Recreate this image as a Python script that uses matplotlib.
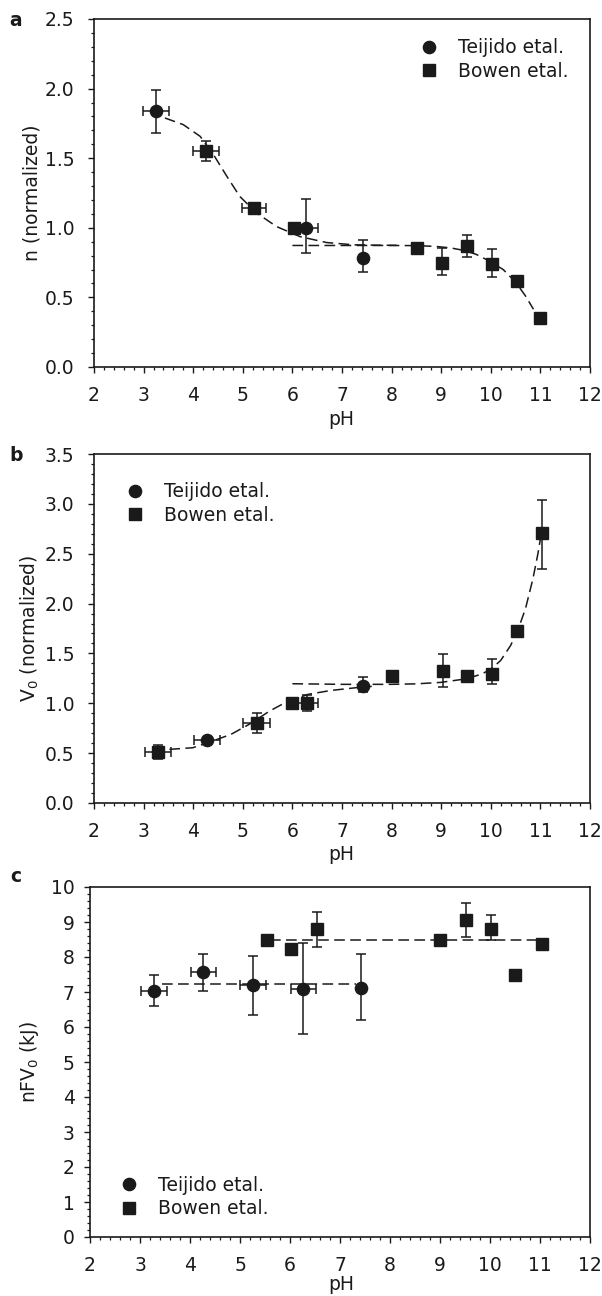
import numpy as np
import matplotlib
matplotlib.use("Agg")
import matplotlib.pyplot as plt
from matplotlib.ticker import MultipleLocator, FormatStrFormatter
from matplotlib.lines import Line2D

plt.rcParams['font.family'] = ['DejaVu Sans']
plt.rcParams['mathtext.default'] = 'regular'

INK = '#1a1a1a'
NAN = np.nan

# ---------------- Panel a : n (normalized) ----------------
a_tei_x = [3.25, 6.27, 7.42]
a_tei_y = [1.838, 0.995, 0.786]
a_tei_xerr = [0.26, 0.25, NAN]
a_tei_ylo = [1.683, 0.817, 0.679]
a_tei_yhi = [1.993, 1.207, 0.912]

a_bow_x = [4.26, 5.22, 6.04, 8.52, 9.02, 9.52, 10.03, 10.52, 11.0]
a_bow_y = [1.552, 1.142, 0.995, 0.857, 0.750, 0.869, 0.743, 0.615, 0.355]
a_bow_xerr = [0.27, 0.24, NAN, NAN, NAN, NAN, NAN, NAN, NAN]
a_bow_ylo = [1.483, NAN, NAN, NAN, 0.660, 0.790, 0.643, NAN, NAN]
a_bow_yhi = [1.620, NAN, NAN, NAN, 0.857, 0.948, 0.850, NAN, NAN]

a_fit1_x = [3.43, 3.80, 4.14, 4.41, 4.68, 4.94, 5.28, 5.68, 6.15, 6.69, 7.23, 7.70, 8.10]
a_fit1_y = [1.789, 1.741, 1.657, 1.525, 1.369, 1.225, 1.106, 1.009, 0.937, 0.894, 0.878, 0.875, 0.874]
a_fit2_x = [6.00, 7.00, 8.00, 8.50, 8.90, 9.20, 9.45, 9.70, 9.95, 10.25, 10.50, 10.70, 10.86]
a_fit2_y = [0.873, 0.873, 0.873, 0.872, 0.866, 0.855, 0.838, 0.810, 0.765, 0.700, 0.610, 0.510, 0.415]

# ---------------- Panel b : V0 (normalized) ----------------
b_tei_x = [4.28, 7.43]
b_tei_y = [0.631, 1.172]
b_tei_xerr = [0.27, NAN]
b_tei_ylo = [NAN, 1.112]
b_tei_yhi = [NAN, 1.263]

b_bow_x = [3.29, 5.28, 6.00, 6.29, 8.01, 9.04, 9.52, 10.03, 10.53, 11.03]
b_bow_y = [0.511, 0.798, 1.002, 1.002, 1.273, 1.323, 1.273, 1.296, 1.723, 2.709]
b_bow_xerr = [0.27, 0.27, NAN, 0.23, NAN, NAN, NAN, NAN, NAN, NAN]
b_bow_ylo = [0.440, 0.700, NAN, 0.920, NAN, 1.166, NAN, 1.190, NAN, 2.348]
b_bow_yhi = [0.580, 0.905, NAN, 1.080, NAN, 1.496, NAN, 1.440, NAN, 3.043]

b_fit1_x = [3.52, 3.99, 4.30, 4.76, 5.15, 5.54, 5.85, 6.31, 6.78, 7.39, 7.60]
b_fit1_y = [0.538, 0.554, 0.605, 0.688, 0.795, 0.922, 1.005, 1.089, 1.129, 1.162, 1.170]
b_fit2_x = [6.00, 7.00, 8.00, 8.50, 9.00, 9.50, 9.80, 10.00, 10.20, 10.40, 10.55, 10.70, 10.85, 10.95, 11.00]
b_fit2_y = [1.196, 1.190, 1.190, 1.195, 1.210, 1.245, 1.290, 1.340, 1.430, 1.580, 1.740, 1.950, 2.250, 2.500, 2.650]

# ---------------- Panel c : nFV0 (kJ) ----------------
c_tei_x = [3.28, 4.27, 5.26, 6.26, 7.41]
c_tei_y = [7.03, 7.56, 7.20, 7.10, 7.12]
c_tei_xerr = [0.26, 0.26, 0.27, 0.25, NAN]
c_tei_ylo = [6.60, 7.03, 6.33, 5.79, 6.19]
c_tei_yhi = [7.50, 8.08, 8.03, 8.41, 8.08]

c_bow_x = [5.53, 6.01, 6.53, 8.99, 9.53, 10.03, 10.50, 11.04]
c_bow_y = [8.50, 8.24, 8.79, 8.50, 9.05, 8.79, 7.50, 8.36]
c_bow_xerr = [NAN] * 8
c_bow_ylo = [NAN, NAN, 8.30, NAN, 8.57, 8.48, NAN, NAN]
c_bow_yhi = [NAN, NAN, 9.29, NAN, 9.54, 9.19, NAN, NAN]

c_fit1_x = [3.44, 7.31]
c_fit1_y = [7.22, 7.22]
c_fit2_x = [5.59, 10.96]
c_fit2_y = [8.50, 8.50]

xticks = [2, 3, 4, 5, 6, 7, 8, 9, 10, 11, 12]
labels_leg = ['Teijido etal.', 'Bowen etal.']

FS = 13.5
W, H = 602, 1296
fig = plt.figure(figsize=(W / 100, H / 100), dpi=100)


def px(x0, y_top, x1, y_bot):
    return [x0 / W, 1 - y_bot / H, (x1 - x0) / W, (y_bot - y_top) / H]


def errs(y, lo, hi):
    y = np.asarray(y, float)
    return np.vstack([y - np.asarray(lo, float), np.asarray(hi, float) - y])


def draw_series(ax, x, y, xerr, ylo, yhi, marker):
    ax.errorbar(x, y, yerr=errs(y, ylo, yhi), xerr=np.asarray(xerr, float),
                fmt='none', ecolor=INK, elinewidth=1.1, capsize=3.6,
                capthick=1.1, zorder=2)
    ax.plot(x, y, linestyle='none', marker=marker, ms=8.8, color=INK,
            mec=INK, zorder=3)


def style(ax, ylim, ymaj, ymin, yfmt, ypad):
    ax.set_xlim(2, 12)
    ax.set_ylim(*ylim)
    ax.set_xticks(xticks)
    ax.xaxis.set_minor_locator(MultipleLocator(0.2))
    ax.yaxis.set_major_locator(MultipleLocator(ymaj))
    ax.yaxis.set_minor_locator(MultipleLocator(ymin))
    ax.yaxis.set_major_formatter(FormatStrFormatter(yfmt))
    ax.tick_params(which='major', direction='out', length=4, width=1.0,
                   labelsize=FS, colors=INK, top=False, right=False)
    ax.tick_params(axis='x', which='major', pad=10)
    ax.tick_params(axis='y', which='major', pad=ypad)
    ax.tick_params(which='minor', direction='out', length=2, width=0.9,
                   colors=INK, top=False, right=False)
    for s in ax.spines.values():
        s.set_linewidth(1.2)
        s.set_color(INK)


def legend(ax, ax_px, ay_px):
    h = [Line2D([], [], ls='none', marker='o', ms=8.8, color=INK),
         Line2D([], [], ls='none', marker='s', ms=8.8, color=INK)]
    ax.legend(h, labels_leg, loc='center left',
              bbox_to_anchor=(ax_px / W, 1 - ay_px / H),
              bbox_transform=fig.transFigure, frameon=False,
              fontsize=FS, handlelength=1.0, handletextpad=1.05,
              borderpad=0, borderaxespad=0, labelspacing=0.25,
              labelcolor=INK)


def labels(ax, ylab, ylab_x, yc, xlab_top):
    ax.set_xlabel('pH', fontsize=FS, color=INK)
    ax.set_ylabel(ylab, fontsize=FS, color=INK)
    ax.xaxis.set_label_coords(341 / W, 1 - xlab_top / H, transform=fig.transFigure)
    ax.yaxis.set_label_coords(ylab_x / W, 1 - yc / H, transform=fig.transFigure)


dash = dict(color=INK, lw=1.1, ls=(0, (7, 3.5)), zorder=1.5)

# Panel a
axa = fig.add_axes(px(94, 19, 590, 367))
axa.plot(a_fit1_x, a_fit1_y, **dash)
axa.plot(a_fit2_x, a_fit2_y, **dash)
draw_series(axa, a_tei_x, a_tei_y, a_tei_xerr, a_tei_ylo, a_tei_yhi, 'o')
draw_series(axa, a_bow_x, a_bow_y, a_bow_xerr, a_bow_ylo, a_bow_yhi, 's')
style(axa, (0, 2.5), 0.5, 0.1, '%.1f', 10)
legend(axa, 420, 59.7)
labels(axa, 'n (normalized)', 41, 193, 410)
fig.text(16 / W, 1 - 20 / H, 'a', fontsize=FS, fontweight='bold',
         ha='center', va='center', color=INK)

# Panel b
axb = fig.add_axes(px(94, 454, 590, 803))
axb.plot(b_fit1_x, b_fit1_y, **dash)
axb.plot(b_fit2_x, b_fit2_y, **dash)
draw_series(axb, b_tei_x, b_tei_y, b_tei_xerr, b_tei_ylo, b_tei_yhi, 'o')
draw_series(axb, b_bow_x, b_bow_y, b_bow_xerr, b_bow_ylo, b_bow_yhi, 's')
style(axb, (0, 3.5), 0.5, 0.1, '%.1f', 10)
legend(axb, 126, 503.7)
labels(axb, r'$V_0$ (normalized)', 41, 628, 845)
fig.text(16 / W, 1 - 455 / H, 'b', fontsize=FS, fontweight='bold',
         ha='center', va='center', color=INK)

# Panel c
axc = fig.add_axes(px(90, 887, 590, 1237))
axc.plot(c_fit1_x, c_fit1_y, **dash)
axc.plot(c_fit2_x, c_fit2_y, **dash)
draw_series(axc, c_tei_x, c_tei_y, c_tei_xerr, c_tei_ylo, c_tei_yhi, 'o')
draw_series(axc, c_bow_x, c_bow_y, c_bow_xerr, c_bow_ylo, c_bow_yhi, 's')
style(axc, (0, 10), 1, 0.2, '%d', 7)
legend(axc, 120, 1197)
labels(axc, r'$nFV_0$ (kJ)', 41, 1062, 1275)
fig.text(16 / W, 1 - 877 / H, 'c', fontsize=FS, fontweight='bold',
         ha='center', va='center', color=INK)

fig.savefig('out.png', dpi=100)
